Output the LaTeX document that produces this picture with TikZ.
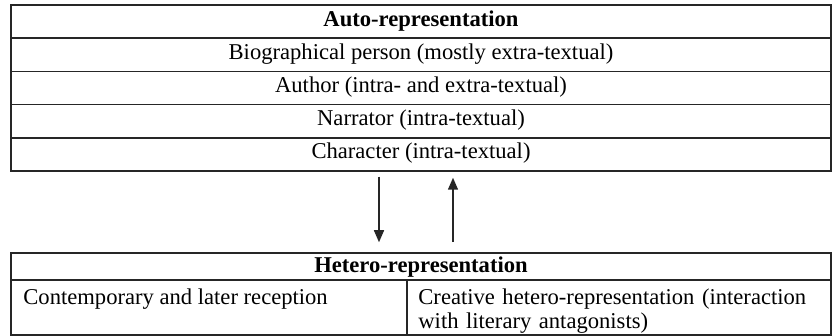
\documentclass[tikz,border=0pt]{standalone}
\usepackage{fontspec}
\setmainfont{Liberation Serif}
\usetikzlibrary{arrows.meta}
\begin{document}
\begin{tikzpicture}[x=0.5pt,y=-0.5pt,
  every node/.style={font=\fontsize{11.3}{11.5}\selectfont},
  rowcell/.style={draw=black!85,line width=0.75pt,minimum width=410pt,minimum height=16.6pt,inner sep=0pt,text height=7.6pt,text depth=3pt},
  headcell/.style={draw=black!85,line width=0.75pt,minimum width=410pt,minimum height=13.5pt,inner sep=0pt,text height=8.6pt,text depth=3pt},
  subcell/.style={draw=black!85,line width=0.75pt,minimum height=27.5pt,inner sep=0pt},
  celltext/.style={anchor=north west,inner sep=0pt,align=left,font=\fontsize{11.3}{12}\selectfont},
  arr/.style={draw=black!85,line width=0.75pt,-{Triangle[width=5pt,length=6pt]}}]
\useasboundingbox (0,0) rectangle (832,336);
% top table
\node[rowcell] (r1) at (421,21.6) {\textbf{Auto-representation}};
\node[rowcell] (r2) at (421,54.8) {Biographical person (mostly extra-textual)};
\node[rowcell] (r3) at (421,88) {Author (intra- and extra-textual)};
\node[rowcell] (r4) at (421,121.2) {Narrator (intra-textual)};
\node[rowcell] (r5) at (421,154.4) {Character (intra-textual)};
% bottom table
\node[headcell] (h0) at (421,266.5) {\textbf{Hetero-representation}};
\node[subcell,minimum width=198pt] (hl) at (209,307.5) {};
\node[subcell,minimum width=212pt] (hr) at (619,307.5) {};
\node[celltext] (tl) at (23,288) {Contemporary and later reception};
\node[celltext,text width=205pt] (tr) at (418,288) {Creative hetero-representation (interaction\\with literary antagonists)};
% arrows
\coordinate (dx) at (379,0);
\coordinate (ux) at (453,0);
\draw[arr,shorten <=2.5pt,shorten >=5pt] (r5.south -| dx) -- (h0.north -| dx);
\draw[arr,shorten <=5pt,shorten >=3pt] (h0.north -| ux) -- (r5.south -| ux);
\end{tikzpicture}
\end{document}
